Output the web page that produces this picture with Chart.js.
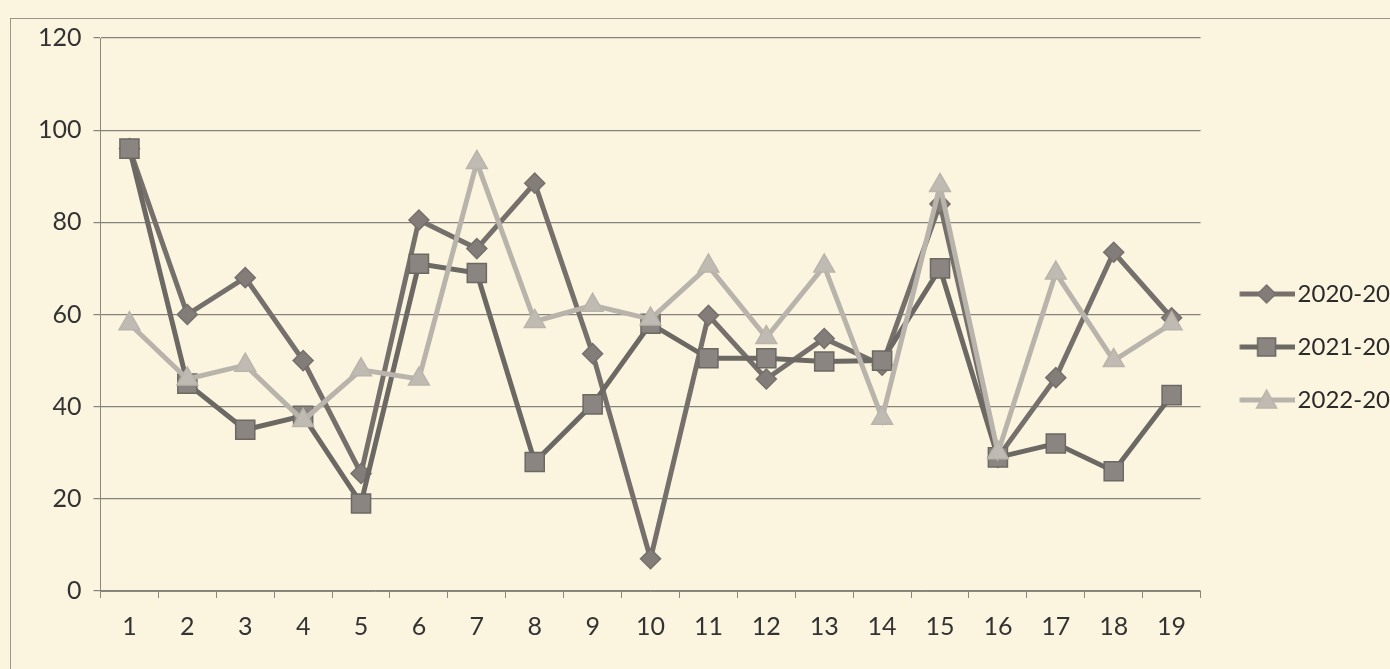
<!DOCTYPE html>
<html><head><meta charset="utf-8">
<script src="https://cdn.jsdelivr.net/npm/chart.js@4/dist/chart.umd.min.js"></script>
<style>
html,body{margin:0;padding:0;background:#fbf5e0;overflow:hidden;width:1390px;height:669px;}
#wrap{position:absolute;left:0;top:0;width:1400px;height:669px;}
</style></head>
<body>
<div id="wrap"><canvas id="c" width="1400" height="669"></canvas></div>
<script>
const categories = ['1','2','3','4','5','6','7','8','9','10','11','12','13','14','15','16','17','18','19'];
const seriesNames = ['2020-20','2021-20','2022-20'];
const s2020 = [96,60,68,50,25.5,80.5,74.3,88.5,51.5,7,59.8,46,54.8,49,84,29,46.3,73.5,59.3];
const s2021 = [96,45,35,38,19,71,69,28,40.5,58,50.5,50.5,49.8,50,70,29,32,26,42.5];
const s2022 = [58,46,49,37,48,46,93,58.5,62,59,70.5,55,70.5,37.5,88,30,69,50,58];
const yTicks = [0,20,40,60,80,100,120];

const FONT = 'Lato, "Liberation Sans", sans-serif';
const styles = [
  {line:'#75706c', fill:'#827d78', shape:'rectRot', r:10},
  {line:'#6c6864', fill:'#8a8580', shape:'rect', r:13.5},
  {line:'#b9b4ab', fill:'#c0bbb2', shape:'triangle', r:12}
];

function legendImg(st){
  const cv = document.createElement('canvas');
  cv.width = 75; cv.height = 24;
  const g = cv.getContext('2d');
  const cx = 46.5, cy = 12;
  g.strokeStyle = st.line; g.lineWidth = 5;
  g.beginPath(); g.moveTo(19.5,cy); g.lineTo(75,cy); g.stroke();
  g.fillStyle = st.fill; g.strokeStyle = st.line; g.lineWidth = 1.5;
  g.beginPath();
  if(st.shape==='rectRot'){ g.moveTo(cx,cy-9); g.lineTo(cx+9,cy); g.lineTo(cx,cy+9); g.lineTo(cx-9,cy); g.closePath(); }
  else if(st.shape==='rect'){ g.rect(cx-9,cy-9,18,18); }
  else { g.moveTo(cx,cy-10); g.lineTo(cx+10,cy+8); g.lineTo(cx-10,cy+8); g.closePath(); }
  g.fill(); g.stroke();
  return cv;
}

const dataSets = [s2020, s2021, s2022].map((arr,i)=>({
  label: seriesNames[i],
  data: arr,
  borderColor: styles[i].line,
  backgroundColor: styles[i].fill,
  borderWidth: 5,
  pointStyle: styles[i].shape,
  pointRadius: styles[i].r,
  pointBorderWidth: 1.5,
  pointBorderColor: styles[i].line,
  pointBackgroundColor: styles[i].fill,
  tension: 0,
  order: 3 - i
}));

const frame = {
  id:'frame',
  beforeDraw(chart){
    const g = chart.ctx;
    g.save();
    g.fillStyle = '#fbf5e0';
    g.fillRect(0,0,chart.width,chart.height);
    g.strokeStyle = '#9a968e'; g.lineWidth = 1;
    g.strokeRect(10.5,18.5,2000,2000);
    g.restore();
  }
};

new Chart(document.getElementById('c'), {
  type:'line',
  data:{labels:categories, datasets:dataSets},
  plugins:[frame],
  options:{
    responsive:false,
    animation:false,
    layout:{padding:{left:26,top:38,right:0,bottom:13}},
    plugins:{
      tooltip:{enabled:false},
      legend:{
        position:'right',
        labels:{
          font:{family:FONT,size:24},
          color:'#2a2a2a',
          usePointStyle:true,
          pointStyleWidth:56,
          boxHeight:24,
          padding:29,
          generateLabels(chart){
            return chart.data.datasets.map((d,i)=>({
              text:d.label, pointStyle:legendImg(styles[i]), fillStyle:'transparent',
              strokeStyle:'transparent', lineWidth:0, datasetIndex:i, hidden:false, fontColor:'#2a2a2a'
            }));
          }
        }
      }
    },
    scales:{
      x:{
        offset:true,
        grid:{offset:true, drawOnChartArea:false, color:'#8a877f', tickLength:7},
        border:{color:'#8a877f', width:1},
        ticks:{font:{family:FONT,size:25}, color:'#333', padding:14, maxRotation:0}
      },
      y:{
        min:0,max:120,
        afterBuildTicks(ax){ ax.ticks = yTicks.map(v=>({value:v})); },
        grid:{color:'#85827c', lineWidth:1.2, tickLength:7},
        border:{color:'#8a877f', width:1},
        ticks:{font:{family:FONT,size:25}, color:'#333', padding:12}
      }
    }
  }
});
</script>
</body></html>
